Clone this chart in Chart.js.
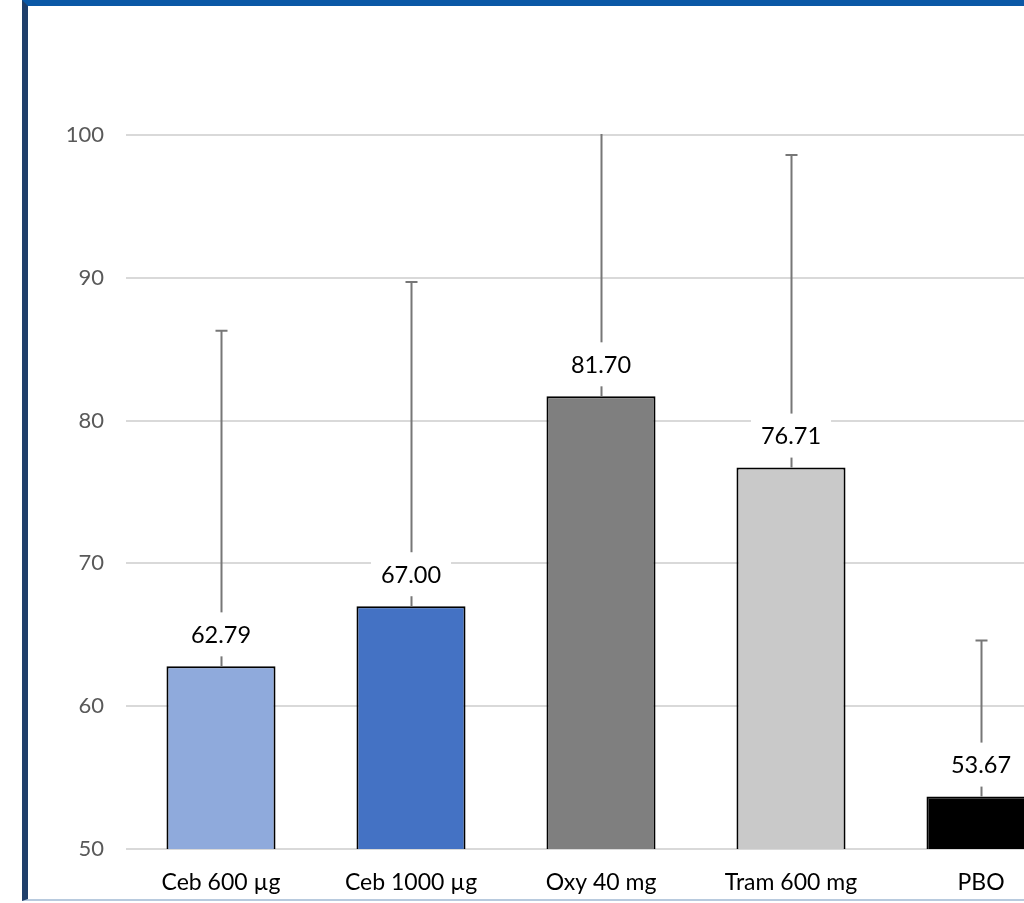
<!DOCTYPE html>
<html>
<head>
<meta charset="utf-8">
<script src="https://cdn.jsdelivr.net/npm/chart.js@4"></script>
<style>
  html, body { margin: 0; padding: 0; overflow: hidden; background: #fff; }
  #frame {
    position: absolute; left: 22px; top: 0; width: 1100px; height: 901px;
    border-top: 6px solid #0b58a6; border-left: 6px solid #1f3f6b;
    border-bottom: 2px solid #b8cade; box-sizing: border-box;
  }
  #chartBar { position: absolute; left: 0; top: 0; }
</style>
</head>
<body>
<div id="frame"></div>
<canvas id="chartBar" width="1080" height="903"></canvas>
<script>
const labels    = ['Ceb 600 µg', 'Ceb 1000 µg', 'Oxy 40 mg', 'Tram 600 mg', 'PBO'];
const means     = [62.79, 67.00, 81.70, 76.71, 53.67];
const upperErr  = [86.3, 89.7, 104.0, 98.6, 64.6];
const barColors = ['#8faadc', '#4472c4', '#7f7f7f', '#c9c9c9', '#000000'];
const yTicks    = [50, 60, 70, 80, 90, 100];

const FONT = 'Lato, "Noto Sans", sans-serif';

// error bars + value labels, positioned through the chart scales
const errorBarPlugin = {
    id: 'errorBars',
    afterDatasetsDraw(chart) {
        const ctx = chart.ctx;
        const x = chart.scales.x, y = chart.scales.y;
        const area = chart.chartArea;
        ctx.save();
        ctx.beginPath();
        ctx.rect(area.left, area.top - 1, area.right - area.left, area.bottom - area.top + 1);
        ctx.clip();
        ctx.strokeStyle = '#777777';
        ctx.lineWidth = 2;
        means.forEach((m, i) => {
            const px = Math.round(x.getPixelForValue(i)) + 0.5;
            const top = y.getPixelForValue(m);
            const hi = y.getPixelForValue(upperErr[i]);
            ctx.beginPath();
            ctx.moveTo(px, top);
            ctx.lineTo(px, hi);
            ctx.moveTo(px - 6, hi);
            ctx.lineTo(px + 6, hi);
            ctx.stroke();
        });
        ctx.restore();

        ctx.save();
        ctx.font = '23.5px ' + FONT;
        ctx.textAlign = 'center';
        ctx.textBaseline = 'middle';
        means.forEach((m, i) => {
            const px = x.getPixelForValue(i);
            const cy = y.getPixelForValue(m) - 32;
            const txt = m.toFixed(2);
            const w = ctx.measureText(txt).width + 20;
            ctx.fillStyle = '#ffffff';
            ctx.fillRect(px - w / 2, cy - 22, w, 44);
            ctx.fillStyle = '#000000';
            ctx.fillText(txt, px, cy + 1);
        });
        ctx.restore();
    }
};

const configBarChart = {
    type: 'bar',
    data: {
        labels: labels,
        datasets: [{
            data: means,
            backgroundColor: barColors,
            borderColor: '#000000',
            borderWidth: 2,
            barPercentage: 0.574,
            categoryPercentage: 1.0
        }]
    },
    options: {
        responsive: false,
        animation: false,
        layout: { padding: { top: 135, right: 4, bottom: 0, left: 0 } },
        plugins: {
            legend: { display: false },
            tooltip: { enabled: false }
        },
        scales: {
            x: {
                grid: { display: false, drawTicks: false },
                border: { display: false },
                ticks: { color: '#000000', font: { family: FONT, size: 23 }, padding: 20 },
                afterFit: (scale) => { scale.height = 54; }
            },
            y: {
                min: 50,
                max: 100,
                afterBuildTicks: (scale) => { scale.ticks = yTicks.map(v => ({ value: v })); },
                grid: { color: '#d9d9d9', lineWidth: 2, drawTicks: false },
                border: { display: false },
                ticks: { color: '#595959', font: { family: FONT, size: 22 }, padding: 22 },
                afterFit: (scale) => { scale.width = 126; }
            }
        }
    },
    plugins: [errorBarPlugin]
};

new Chart(document.getElementById('chartBar'), configBarChart);
</script>
</body>
</html>
